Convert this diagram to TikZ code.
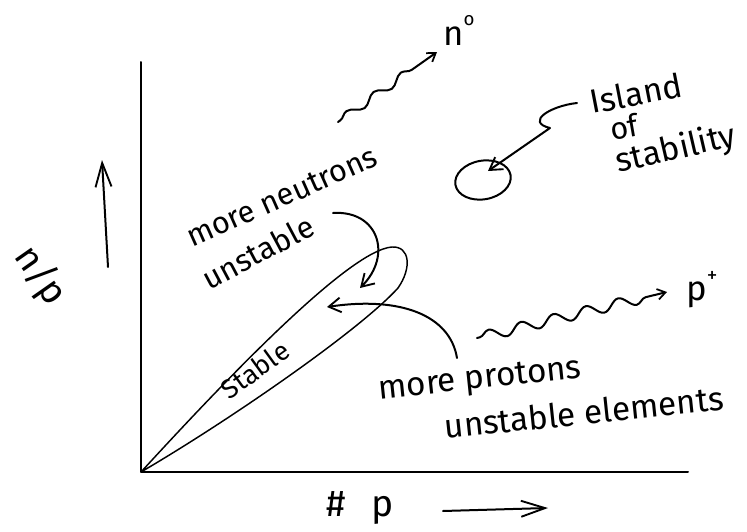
\documentclass[tikz,border=0pt]{standalone}
\usepackage{fontspec}
\setmainfont{Fira Sans}
\usetikzlibrary{arrows.meta,decorations.pathmorphing}
\begin{document}
\begin{tikzpicture}[x=0.75pt,y=-0.75pt,line cap=round,line join=round,
  ink/.style={line width=1.5pt},
  thinink/.style={line width=1.1pt},
  hand/.style={font=\fontsize{23}{25}\selectfont,inner sep=0pt},
  big/.style={font=\fontsize{25}{27}\selectfont},
  tipm/.style={-{Straight Barb[length=9pt,width=11pt,line width=1.4pt]}},
  tipl/.style={-{Straight Barb[length=18pt,width=12pt,line width=1.4pt]}},
  tips/.style={-{Straight Barb[length=6pt,width=8pt,line width=1.3pt]}},
  wave/.style={decorate,decoration={snake,amplitude=#1,segment length=25pt,pre length=2pt,post length=12pt}}]
\useasboundingbox (0,0) rectangle (747,532);
% axes
\coordinate (O) at (141,472);
\coordinate (ytop) at (141,62);
\coordinate (xend) at (688,472);
\draw[ink] (ytop) -- (O) -- (xend);
% y label and arrow
\coordinate (ya0) at (108,267);
\coordinate (ya1) at (102,160);
\draw[ink,tipl] (ya0) -- (ya1);
\node[hand,font=\fontsize{28}{30}\selectfont,rotate=-55] (np) at (40,276) {n/p};
% x label and arrow
\node[hand,font=\fontsize{28}{30}\selectfont,anchor=base west] (xp) at (326,516) {\#\hspace{0.7em}p};
\coordinate (xa0) at (443,511);
\coordinate (xa1) at (548,508);
\draw[ink,tipl] (xa0) -- (xa1);
% stable region
\draw[thinink] (O) .. controls (230,375) and (350,250) .. (392,247)
  .. controls (410,246) and (412,268) .. (398,288)
  .. controls (360,330) and (230,420) .. (O);
\node[hand,font=\fontsize{20}{22}\selectfont,rotate=36] (stable) at (255,370) {Stable};
% neutron-rich
\node[hand,rotate=24] (mn) at (282,197) {more neutrons};
\node[hand,rotate=28] (un) at (258,252) {unstable};
\coordinate (na0) at (333,213);
\coordinate (na1) at (360,288);
\draw[ink,tipm] (na0) .. controls (378,210) and (393,255) .. (na1);
% proton-rich
\node[hand,big,rotate=6] (mp) at (480,381) {more protons};
\node[hand,big,rotate=6] (ue) at (584,412) {unstable elements};
\coordinate (pa0) at (457,358);
\coordinate (pa1) at (327,307);
\draw[ink,tipm] (pa0) .. controls (450,315) and (400,296) .. (pa1);
% neutron emission
\coordinate (w0) at (338,122);
\coordinate (w1) at (437,52);
\draw[ink,tips,wave=3pt] (w0) -- (w1);
\node[hand,font=\fontsize{26}{28}\selectfont,anchor=base west] (nlab) at (443,45) {n\raisebox{0.55em}{\fontsize{14}{14}\selectfont o}};
% proton emission
\coordinate (v0) at (477,338);
\coordinate (v1) at (667,292);
\draw[ink,tips,wave=4pt] (v0) -- (v1);
\node[hand,font=\fontsize{26}{28}\selectfont,anchor=base west] (plab) at (686,300) {p\raisebox{0.5em}{\fontsize{16}{16}\selectfont +}};
% island of stability
\draw[ink,rotate around={10:(483,180)}] (483,180) ellipse [x radius=21pt,y radius=14.5pt];
\node[hand,big,rotate=11] (isl) at (636,93) {Island};
\node[hand,rotate=10] (of) at (624,127) {of};
\node[hand,big,rotate=13] (stab) at (676,150) {stability};
\coordinate (i0) at (577,103);
\coordinate (i1) at (488,171);
\draw[ink,tipm] (i0) .. controls (550,106) and (525,122) .. (550,128) -- (i1);
\end{tikzpicture}
\end{document}
